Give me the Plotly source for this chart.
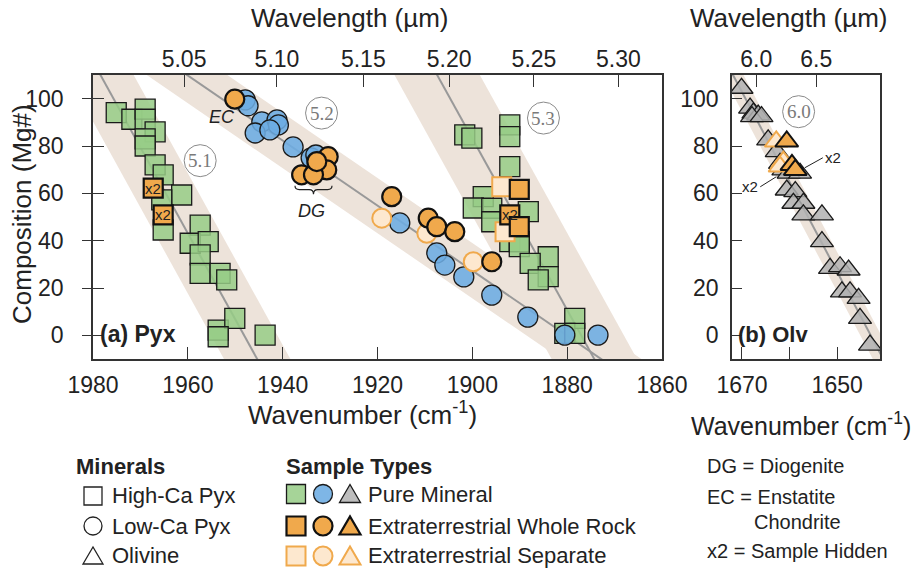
import plotly.graph_objects as go

W, H = 916, 569

# ---------------- data ----------------
# Panel (a) pyroxene: wavenumber (cm-1) vs Mg#
hcpx_pure_wn = [1975.1, 1971.8, 1969.0, 1969.0, 1966.9, 1969.0, 1969.0, 1966.9, 1965.2, 1961.3, 1965.5, 1965.2,
                1957.4, 1959.5, 1955.7, 1957.4, 1957.4, 1953.2, 1951.8, 1953.6, 1950.1, 1953.6, 1943.7,
                1901.6, 1900.1, 1892.1, 1892.1, 1892.1, 1897.7, 1899.8, 1895.9, 1888.2, 1895.9, 1892.1,
                1890.1, 1890.1, 1884.0, 1887.8, 1884.0, 1886.1, 1878.4, 1880.5, 1878.4]
hcpx_pure_mg = [94.1, 91.3, 95.6, 91.3, 86.0, 83.0, 80.0, 72.0, 67.8, 59.3, 57.2, 44.5,
                46.6, 38.9, 39.6, 34.0, 26.2, 26.2, 23.4, 2.2, 7.2, -0.6, 0.1,
                84.7, 83.3, 88.9, 84.0, 71.3, 58.6, 53.8, 53.7, 52.3, 48.0, 39.6,
                39.6, 37.5, 33.2, 30.4, 24.8, 23.4, 7.2, 0.8, 0.8]

lcpx_pure_wn = [1947.9, 1947.3, 1944.4, 1941.2, 1940.9, 1945.8, 1942.7, 1937.8, 1934.0, 1933.0,
                1915.3, 1907.5, 1905.8, 1901.8, 1895.9, 1888.3, 1880.5, 1873.5]
lcpx_pure_mg = [99.5, 97.0, 90.2, 91.0, 88.9, 85.5, 86.8, 79.6, 75.0, 76.2,
                47.5, 34.8, 29.7, 24.7, 17.0, 7.7, 0.1, 0.1]

hcpx_wr_wn = [1967.3, 1965.2, 1890.1, 1892.1, 1890.1]
hcpx_wr_mg = [62.2, 50.9, 61.7, 50.9, 45.9]
hcpx_wr_hidden = [True, True, False, True, False]

hcpx_sep_wn = [1893.8, 1893.1]
hcpx_sep_mg = [62.8, 43.8]

lcpx_wr_wn = [1950.1, 1930.4, 1930.7, 1936.0, 1933.5, 1932.8, 1917.0, 1909.3, 1907.5, 1903.7, 1895.9]
lcpx_wr_mg = [99.8, 75.5, 69.9, 67.8, 67.8, 73.4, 58.6, 49.5, 45.9, 43.8, 31.1]

lcpx_sep_wn = [1919.1, 1909.6, 1899.8]
lcpx_sep_mg = [49.5, 43.1, 31.1]

# Panel (b) olivine
olv_pure_wn = [1670.1, 1668.3, 1667.6, 1666.6, 1667.9, 1665.9, 1664.5, 1662.7, 1662.0, 1661.3, 1660.2,
               1657.8, 1660.6, 1658.8, 1659.2, 1657.1, 1657.1, 1653.2, 1653.2, 1651.5, 1649.4, 1647.6,
               1649.0, 1647.3, 1645.5, 1645.2, 1643.1]
olv_pure_mg = [104.4, 96.0, 93.9, 93.1, 92.4, 92.4, 82.6, 77.6, 72.7, 69.9, 68.5,
               68.5, 61.4, 60.7, 55.8, 55.8, 50.9, 50.9, 39.6, 28.3, 29.0, 27.6,
               18.4, 18.4, 15.6, 7.2, -4.1]
olv_wr_wn = [1660.6, 1659.5, 1658.8]
olv_wr_mg = [81.9, 72.0, 69.9]
olv_sep_wn = [1662.8, 1661.3, 1662.0]
olv_sep_mg = [81.9, 73.4, 71.3]

# Trend bands: center line (wavenumber at Mg#=115 and Mg#=-15) and half-width (cm-1)
band_names = ["5.1", "5.2", "5.3", "6.0"]
band_wn_top = [1979.8, 1963.8, 1908.8, 1673.2]
band_wn_bot = [1944.0, 1869.2, 1872.9, 1639.0]
band_halfwidth = [7.0, 8.5, 9.0, 2.2]
band_mg_top, band_mg_bot = 115, -15

# Tick labels
wn_ticks_a = [1980, 1960, 1940, 1920, 1900, 1880, 1860]
wl_labels_a = ["5.05", "5.10", "5.15", "5.20", "5.25", "5.30"]
wl_pos_a = [1960.8, 1941.2, 1923.0, 1904.9, 1887.0, 1869.2]
wn_ticks_b = [1670, 1660, 1650]
wn_labels_b = ["1670", "", "1650"]
wl_labels_b = ["6.0", "6.5"]
wl_pos_b = [1667.0, 1654.4]
mg_ticks = [0, 20, 40, 60, 80, 100]

# ---------------- style ----------------
FONT = "Liberation Sans, Arial, sans-serif"
SERIF = "Liberation Serif, DejaVu Serif, serif"
TXT = "#222222"
GREEN = "rgba(150,204,134,0.85)"
BLUE = "rgba(108,172,226,0.88)"
GRAY = "rgba(178,178,178,0.85)"
ORANGE = "#f0a94c"
SEPFILL = "#fde8cf"
BAND = "#ede3da"
LINEGRAY = "#999999"

fig = go.Figure()

def px_x(p):
    return p / W

def px_y(p):
    return 1 - p / H

# bands
for i, name in enumerate(band_names):
    xa, ya = ("x", "y") if name != "6.0" else ("x2", "y2")
    t, b, w = band_wn_top[i], band_wn_bot[i], band_halfwidth[i]
    fig.add_trace(go.Scatter(x=[t - w, t + w, b + w, b - w, t - w],
                             y=[band_mg_top, band_mg_top, band_mg_bot, band_mg_bot, band_mg_top],
                             fill="toself", fillcolor=BAND, mode="lines", line=dict(width=0),
                             hoverinfo="skip", showlegend=False, xaxis=xa, yaxis=ya))
for i, name in enumerate(band_names):
    xa, ya = ("x", "y") if name != "6.0" else ("x2", "y2")
    fig.add_trace(go.Scatter(x=[band_wn_top[i], band_wn_bot[i]], y=[band_mg_top, band_mg_bot],
                             mode="lines", line=dict(color=LINEGRAY, width=2),
                             hoverinfo="skip", showlegend=False, xaxis=xa, yaxis=ya))

def mk(x, y, symbol, fill, lc, lw, size, xa="x", ya="y"):
    fig.add_trace(go.Scatter(x=x, y=y, mode="markers", xaxis=xa, yaxis=ya, showlegend=False,
                             marker=dict(symbol=symbol, size=size, color=fill,
                                         line=dict(color=lc, width=lw))))

mk(hcpx_pure_wn, hcpx_pure_mg, "square", GREEN, "#1a1a1a", 1.3, 20)
mk(lcpx_pure_wn, lcpx_pure_mg, "circle", BLUE, "#1a1a1a", 1.3, 20)
mk(hcpx_sep_wn, hcpx_sep_mg, "square", SEPFILL, ORANGE, 2, 19)
mk(lcpx_sep_wn, lcpx_sep_mg, "circle", SEPFILL, ORANGE, 2, 19)
mk(hcpx_wr_wn, hcpx_wr_mg, "square", ORANGE, "#111111", 2.2, 19)
mk(lcpx_wr_wn, lcpx_wr_mg, "circle", ORANGE, "#111111", 2.2, 19)
mk(olv_pure_wn, olv_pure_mg, "triangle-up", GRAY, "#1a1a1a", 1.3, 20, "x2", "y2")
mk(olv_sep_wn, olv_sep_mg, "triangle-up", SEPFILL, ORANGE, 2, 20, "x2", "y2")
mk(olv_wr_wn, olv_wr_mg, "triangle-up", ORANGE, "#111111", 2, 20, "x2", "y2")

annotations = []
shapes = []

# "x2" on hidden whole-rock squares
for xw, ym, hid in zip(hcpx_wr_wn, hcpx_wr_mg, hcpx_wr_hidden):
    if hid:
        annotations.append(dict(x=xw, y=ym, xref="x", yref="y", text="x2", showarrow=False,
                                font=dict(family=FONT, size=15, color=TXT)))

# x2 callouts in panel b
annotations.append(dict(x=1656.8, y=70.8, xref="x2", yref="y2", text="x2", showarrow=True,
                        arrowhead=0, arrowwidth=1, arrowcolor=TXT, ax=18, ay=-10, xanchor="left",
                        font=dict(family=FONT, size=15, color=TXT)))
annotations.append(dict(x=1662.8, y=67.0, xref="x2", yref="y2", text="x2", showarrow=True,
                        arrowhead=0, arrowwidth=1, arrowcolor=TXT, ax=-16, ay=10, xanchor="right",
                        font=dict(family=FONT, size=15, color=TXT)))

# EC / DG labels
annotations.append(dict(x=1952.8, y=92.3, xref="x", yref="y", text="<i>EC</i>", showarrow=False,
                        font=dict(family=FONT, size=18, color=TXT)))
annotations.append(dict(x=1934.0, y=52.5, xref="x", yref="y", text="<i>DG</i>", showarrow=False,
                        font=dict(family=FONT, size=18, color=TXT)))
bx0, bx1, bxc = 1937.4, 1929.6, 1933.5
by_top, by_mid, by_tip = 63.2, 61.6, 59.6
shapes.append(dict(type="path", xref="x", yref="y", line=dict(color=TXT, width=1.2),
                   path=(f"M {bx0},{by_top} Q {bx0},{by_mid} {bx0-0.9},{by_mid} L {bxc+0.9},{by_mid} "
                         f"Q {bxc},{by_mid} {bxc},{by_tip} Q {bxc},{by_mid} {bxc-0.9},{by_mid} "
                         f"L {bx1+0.9},{by_mid} Q {bx1},{by_mid} {bx1},{by_top}")))

# circled band labels
circ_pos = [("5.1", 1957.4, 73.8, "x", "y"), ("5.2", 1931.8, 93.9, "x", "y"),
            ("5.3", 1885.0, 91.8, "x", "y"), ("6.0", 1658.1, 94.5, "x2", "y2")]
for lab, cx, cy, xa, ya in circ_pos:
    shapes.append(dict(type="circle", xref=xa, yref=ya, xsizemode="pixel", ysizemode="pixel",
                       xanchor=cx, yanchor=cy, x0=-16, x1=16, y0=-16, y1=16,
                       line=dict(color="#8a8a8a", width=1)))
    annotations.append(dict(x=cx, y=cy, xref=xa, yref=ya, text=lab, showarrow=False,
                            font=dict(family=SERIF, size=19, color="#7a7a7a")))

# panel labels
annotations.append(dict(x=px_x(98), y=px_y(334), xref="paper", yref="paper", text="<b>(a) Pyx</b>",
                        showarrow=False, xanchor="left", font=dict(family=FONT, size=23, color=TXT)))
annotations.append(dict(x=px_x(736), y=px_y(334), xref="paper", yref="paper", text="<b>(b) Olv</b>",
                        showarrow=False, xanchor="left", font=dict(family=FONT, size=22, color=TXT)))

# axis titles
def ptxt(x, y, text, size, anchor="center", angle=0, bold=False):
    t = f"<b>{text}</b>" if bold else text
    annotations.append(dict(x=px_x(x), y=px_y(y), xref="paper", yref="paper", text=t, showarrow=False,
                            xanchor=anchor, yanchor="middle", textangle=angle,
                            font=dict(family=FONT, size=size, color=TXT)))

ptxt(350, 18, "Wavelength (µm)", 26)
ptxt(789, 18, "Wavelength (µm)", 26)
ptxt(22, 214, "Composition (Mg#)", 26, angle=-90)
ptxt(362, 413, "Wavenumber (cm<sup>-1</sup>)", 26)
ptxt(913, 424, "Wavenumber (cm<sup>-1</sup>)", 25, anchor="right")

# ---------------- bottom key ----------------
ptxt(74, 466, "Minerals", 22, anchor="left", bold=True)
ptxt(284, 466, "Sample Types", 22, anchor="left", bold=True)
ptxt(110, 495, "High-Ca Pyx", 22, anchor="left")
ptxt(110, 526, "Low-Ca Pyx", 22, anchor="left")
ptxt(110, 555, "Olivine", 22, anchor="left")
ptxt(366, 494, "Pure Mineral", 22, anchor="left")
ptxt(366, 526, "Extraterrestrial Whole Rock", 22, anchor="left")
ptxt(366, 555, "Extraterrestrial Separate", 22, anchor="left")
ptxt(705, 466, "DG = Diogenite", 20, anchor="left")
ptxt(705, 497, "EC = Enstatite", 20, anchor="left")
ptxt(752, 522, "Chondrite", 20, anchor="left")
ptxt(705, 551, "x2 = Sample Hidden", 20, anchor="left")

def key_shape(kind, cxp, cyp, fill, lc, lw, s=19):
    h = s / 2
    base = dict(xref="paper", yref="paper", xsizemode="pixel", ysizemode="pixel",
                xanchor=px_x(cxp), yanchor=px_y(cyp), fillcolor=fill, line=dict(color=lc, width=lw))
    if kind == "square":
        base.update(type="rect", x0=-h, x1=h, y0=-h, y1=h)
    elif kind == "circle":
        base.update(type="circle", x0=-h, x1=h, y0=-h, y1=h)
    else:
        base.update(type="path", path=f"M {-h-1},{-h+1} L {h+1},{-h+1} L 0,{h} Z")
    shapes.append(base)

key_shape("square", 93, 496, "rgba(0,0,0,0)", TXT, 1.3, 18)
key_shape("circle", 93, 526, "rgba(0,0,0,0)", TXT, 1.3, 18)
key_shape("tri", 93, 556, "rgba(0,0,0,0)", TXT, 1.3, 18)
key_shape("square", 296, 494, GREEN, "#1a1a1a", 1.3)
key_shape("circle", 323, 494, BLUE, "#1a1a1a", 1.3)
key_shape("tri", 350, 494, GRAY, "#1a1a1a", 1.3)
key_shape("square", 296, 526, ORANGE, "#111111", 2.2)
key_shape("circle", 323, 526, ORANGE, "#111111", 2.2)
key_shape("tri", 350, 526, ORANGE, "#111111", 2.2)
key_shape("square", 296, 556, SEPFILL, ORANGE, 2)
key_shape("circle", 323, 556, SEPFILL, ORANGE, 2)
key_shape("tri", 350, 556, SEPFILL, ORANGE, 2)

# ---------------- axes ----------------
AX_LINE = dict(showline=True, linecolor="#333333", linewidth=1.6, showgrid=False, zeroline=False,
               tickcolor="#333333", tickwidth=1.3, tickfont=dict(family=FONT, size=23, color=TXT))
dom_a = [93 / W, 662 / W]
dom_b = [732 / W, 880 / W]
dom_y = [1 - 359 / H, 1 - 75 / H]

fig.update_layout(
    width=W, height=H, margin=dict(l=0, r=0, t=0, b=0, autoexpand=False),
    paper_bgcolor="white", plot_bgcolor="white", showlegend=False,
    xaxis=dict(domain=dom_a, range=[1980, 1860], anchor="y", mirror=True, ticks="inside", ticklen=12,
               tickvals=wn_ticks_a, ticklabelstandoff=5, **AX_LINE),
    yaxis=dict(domain=dom_y, range=[-10, 110], anchor="x", mirror=True, ticks="outside", ticklen=9,
               tickvals=mg_ticks, ticklabelstandoff=14, **AX_LINE),
    xaxis3=dict(overlaying="x", side="top", anchor="y", range=[1980, 1860], ticks="inside", ticklen=12,
                tickvals=wl_pos_a, ticktext=wl_labels_a, ticklabelstandoff=2,
                showgrid=False, zeroline=False, showline=False, tickcolor="#333333", tickwidth=1.3,
                tickfont=dict(family=FONT, size=23, color=TXT)),
    yaxis3=dict(overlaying="y", anchor="x", range=[-10, 110], ticks="inside", ticklen=11,
                tickvals=mg_ticks, showticklabels=False, showgrid=False, zeroline=False, showline=False,
                tickcolor="#333333", tickwidth=1.3),
    xaxis2=dict(domain=dom_b, range=[1672.1, 1641.0], anchor="y2", mirror=True, ticks="inside", ticklen=12,
                tickvals=wn_ticks_b, ticktext=wn_labels_b, ticklabelstandoff=5, **AX_LINE),
    yaxis2=dict(domain=dom_y, range=[-10, 110], anchor="x2", mirror=True, ticks="inside", ticklen=10,
                tickvals=mg_ticks, ticklabelstandoff=7, **AX_LINE),
    xaxis4=dict(overlaying="x2", side="top", anchor="y2", range=[1672.1, 1641.0], ticks="inside", ticklen=12,
                tickvals=wl_pos_b, ticktext=wl_labels_b, ticklabelstandoff=2,
                showgrid=False, zeroline=False, showline=False, tickcolor="#333333", tickwidth=1.3,
                tickfont=dict(family=FONT, size=23, color=TXT)),
    annotations=annotations, shapes=shapes,
)
# empty traces so the overlay axes render
fig.add_trace(go.Scatter(x=[None], y=[None], xaxis="x3", yaxis="y3", showlegend=False))
fig.add_trace(go.Scatter(x=[None], y=[None], xaxis="x4", yaxis="y2", showlegend=False))

fig.write_html("out.html", config={"displayModeBar": False},
               post_script="document.body.style.margin='0';document.body.style.overflow='hidden';")
